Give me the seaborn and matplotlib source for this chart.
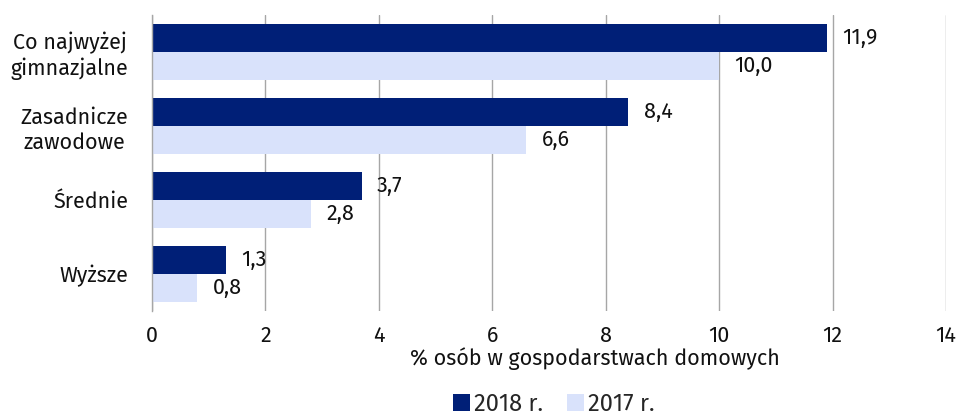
import matplotlib
matplotlib.use("Agg")
import matplotlib.pyplot as plt
import seaborn as sns
import pandas as pd
from matplotlib.ticker import FixedLocator

categories = ["Co najwyżej\ngimnazjalne", "Zasadnicze\nzawodowe", "Średnie", "Wyższe"]
series_names = ["2018 r.", "2017 r."]
values_2018 = [11.9, 8.4, 3.7, 1.3]
values_2017 = [10.0, 6.6, 2.8, 0.8]
x_ticks = [0, 2, 4, 6, 8, 10, 12, 14]
x_label = "% osób w gospodarstwach domowych"
colors = ["#001F77", "#D9E2FB"]

df = pd.DataFrame({
    "kat": categories * 2,
    "rok": [series_names[0]] * 4 + [series_names[1]] * 4,
    "val": values_2018 + values_2017,
})

sns.set_theme(style="white")
plt.rcParams["font.family"] = ["Fira Sans", "Open Sans", "DejaVu Sans"]

FS = 15.5
fig = plt.figure(figsize=(9.57, 4.16), dpi=100)
ax = fig.add_axes([152/957, 1 - 311/416, (946 - 152)/957, (311 - 15)/416])

sns.barplot(data=df, y="kat", x="val", hue="rok", hue_order=series_names,
            palette=colors, orient="h", width=0.76, ax=ax, legend=True,
            saturation=1, edgecolor="none")

for cont in ax.containers:
    labs = [f"{v:.1f}".replace(".", ",") for v in cont.datavalues]
    ax.bar_label(cont, labels=labs, padding=11, fontsize=FS, color="#111111")

ax.set_xlim(0, 14)
ax.set_ylim(3.5, -0.5)
ax.set_xticks(x_ticks)
ax.set_xticklabels([str(t) for t in x_ticks], fontsize=FS, color="#111111")
ax.grid(axis="x", color="#A6A6A6", linewidth=1)
ax.set_axisbelow(True)
for s in ["top", "right", "bottom"]:
    ax.spines[s].set_visible(False)
ax.spines["left"].set_color("#A6A6A6")
ax.spines["left"].set_linewidth(1)
ax.tick_params(axis="x", which="major", length=6, color="#A6A6A6", width=1, pad=4)
ax.tick_params(axis="y", which="major", length=0, pad=17)
ax.yaxis.set_minor_locator(FixedLocator([-0.5, 0.5, 1.5, 2.5, 3.5]))
ax.tick_params(axis="y", which="minor", length=6, color="#A6A6A6", width=1)
for lab in ax.get_yticklabels():
    lab.set_multialignment("center")
    lab.set_fontsize(FS)
    lab.set_color("#111111")
ax.set_ylabel("")
ax.set_xlabel(x_label, fontsize=FS, color="#111111", labelpad=2)
ax.xaxis.set_label_coords((595 - 152) / 794, -(357 - 311 - 10) / 296)

leg = ax.get_legend()
handles = leg.legend_handles
leg.remove()
fig.legend(handles, series_names, loc="center", bbox_to_anchor=(554/957, 1 - 404/416),
           ncol=2, frameon=False, fontsize=17, handlelength=0.7, handleheight=0.7,
           handletextpad=0.2, columnspacing=1.0)

fig.savefig("out.png", dpi=100)
